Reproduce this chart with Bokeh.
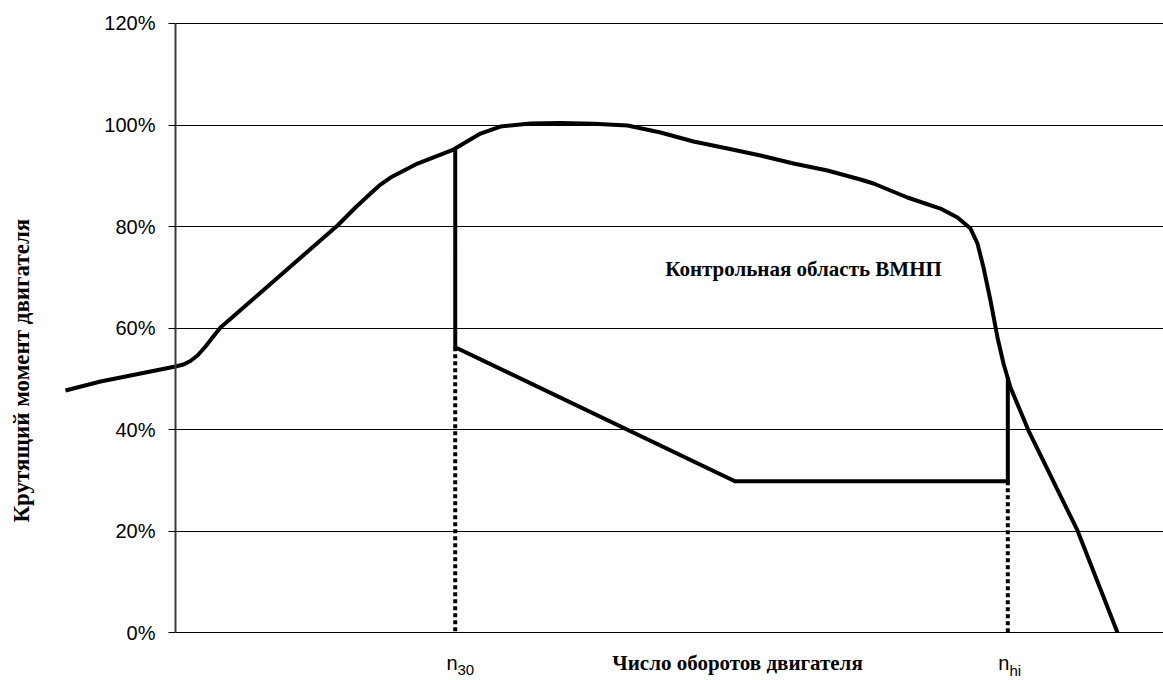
import math
from bokeh.plotting import figure
from bokeh.models import Range1d, LinearAxis, FixedTicker, Grid
from bokeh.core.properties import value
from bokeh.embed import file_html
from bokeh.resources import INLINE

# --- data (engine speed in % of span from the torque axis, torque in %) ---
speed = [-11.17, -7.61, -3.55, 0.0, 0.81, 1.52, 2.23, 3.05, 3.76, 4.57, 16.45, 18.27,
         19.80, 20.81, 21.83, 24.57,
         28.22, 30.96, 32.99, 36.04, 39.09, 42.44, 45.89, 49.24, 52.59, 56.04,
         59.39, 62.74, 66.19, 69.54, 70.86, 74.31, 77.66, 79.39, 80.71, 81.42,
         82.03, 82.74, 83.45, 84.06, 84.77, 86.60, 91.57, 95.63]
torque = [47.68, 49.46, 51.03, 52.41, 52.81, 53.50, 54.58, 56.35, 58.13, 60.10, 80.20, 83.74,
          86.50, 88.27, 89.65, 92.41,
          95.17, 98.32, 99.70, 100.29, 100.39, 100.23, 99.90, 98.52, 96.75, 95.37,
          93.99, 92.41, 91.03, 89.26, 88.47, 85.71, 83.54, 81.77, 79.60, 76.65,
          71.92, 65.42, 58.13, 53.00, 48.27, 39.80, 20.10, 0.0]

n30 = 28.4
nhi = 84.5
ctrl_x = [n30, n30, 56.8, nhi, nhi]
ctrl_y = [95.3, 56.2, 29.8, 29.8, 50.3]
dotted_x0 = [n30, nhi]
dotted_y0 = [56.2, 29.8]
dotted_y1 = [0, 0]

y_ticks = [0, 20, 40, 60, 80, 100, 120]
y_tick_labels = ["0%", "20%", "40%", "60%", "80%", "100%", "120%"]

region_label = "Контрольная область ВМНП"
x_title = "Число оборотов двигателя"
y_title = "Крутящий момент двигателя"
speed_names = ["n", "n"]
speed_subs = ["30", "hi"]

# --- figure ---
p = figure(width=1163, height=680, output_backend="svg", toolbar_location=None,
           x_range=Range1d(-17.766, 100.305), y_range=Range1d(-9.458, 124.532),
           x_axis_location=None, y_axis_location=None)
p.min_border = 0
p.min_border_left = 0
p.min_border_right = 0
p.min_border_top = 0
p.min_border_bottom = 0
p.outline_line_color = None
p.background_fill_color = "white"
p.border_fill_color = "white"
p.center = [r for r in p.center if not isinstance(r, Grid)]

yaxis = LinearAxis(fixed_location=0, bounds=(0, 120),
                   ticker=FixedTicker(ticks=y_ticks),
                   major_label_overrides={t: l for t, l in zip(y_ticks, y_tick_labels)})
yaxis.axis_line_width = 2
yaxis.axis_line_color = "#3a3a3a"
yaxis.major_tick_out = 7
yaxis.major_tick_in = 0
yaxis.major_tick_line_color = "black"
yaxis.minor_tick_out = 0
yaxis.minor_tick_in = 0
yaxis.major_label_standoff = 13
yaxis.major_label_text_font = "Liberation Sans"
yaxis.major_label_text_font_size = "20px"
yaxis.major_label_text_color = "black"
p.add_layout(yaxis, "left")

grid = Grid(dimension=1, ticker=FixedTicker(ticks=y_ticks),
            grid_line_color="black", grid_line_width=1)
try:
    grid.cross_bounds = (0, 120)
    p.add_layout(grid)
except Exception:
    p.segment(x0=[0] * len(y_ticks), x1=[120] * len(y_ticks), y0=y_ticks, y1=y_ticks,
              line_color="black", line_width=1)

# full load torque curve
p.line(speed, torque, line_color="black", line_width=4, line_join="round")

# control area
p.line(ctrl_x, ctrl_y, line_color="black", line_width=4, line_join="miter")
p.segment(x0=dotted_x0, x1=dotted_x0, y0=dotted_y0, y1=dotted_y1,
          line_color="black", line_width=4, line_dash="4 3")

# texts
p.text(x=[63.76], y=[71.6], text=[region_label], text_font=value("Liberation Serif"),
       text_font_style="bold", text_font_size="21px", text_align="center",
       text_baseline="middle", text_color="black")
p.text(x=[57.06], y=[-6.1], text=[x_title], text_font=value("Liberation Serif"),
       text_font_style="bold", text_font_size="21px", text_align="center",
       text_baseline="middle", text_color="black")
p.text(x=[-15.6], y=[51.6], text=[y_title], text_font=value("Liberation Serif"),
       text_font_style="bold", text_font_size="23px", text_align="center",
       text_baseline="middle", text_color="black", angle=math.pi / 2)
p.text(x=[28.63, 84.67], y=[-6.0, -6.0], text=speed_names, text_font=value("Liberation Sans"),
       text_font_size="20px", text_align="right", text_baseline="alphabetic",
       text_color="black")
p.text(x=[28.63, 84.67], y=[-7.4, -7.4], text=speed_subs, text_font=value("Liberation Sans"),
       text_font_size="15px", text_align="left", text_baseline="alphabetic",
       text_color="black")

open("out.html", "w").write(file_html(p, INLINE))
